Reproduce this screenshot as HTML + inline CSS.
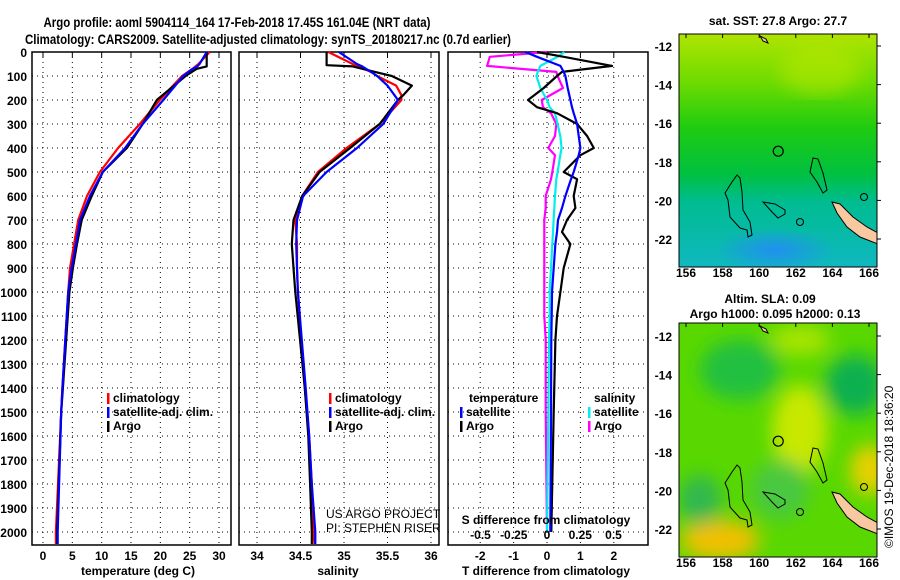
<!DOCTYPE html>
<html><head><meta charset="utf-8"><style>
html,body{margin:0;padding:0;background:#fff;width:900px;height:580px;overflow:hidden}
svg{display:block}
svg text{font-family:"Liberation Sans",sans-serif}
.b{font-weight:bold;font-size:12px}
</style></head><body>
<svg id="c" width="900" height="580" viewBox="0 0 900 580" xmlns="http://www.w3.org/2000/svg">
<defs>
<linearGradient id="sst" x1="0" y1="0" x2="0" y2="1">
<stop offset="0" stop-color="#b0e400"/><stop offset="0.2" stop-color="#70dc00"/><stop offset="0.4" stop-color="#20cc10"/><stop offset="0.6" stop-color="#00c040"/><stop offset="0.72" stop-color="#00bc90"/><stop offset="1" stop-color="#10b8c0"/></linearGradient>
<radialGradient id="blu" cx="0.5" cy="0.5" r="0.5"><stop offset="0" stop-color="#2090f0"/><stop offset="1" stop-color="#2090f0" stop-opacity="0"/></radialGradient>
<filter id="bl"><feGaussianBlur stdDeviation="9"/></filter>
<clipPath id="m1"><rect x="679" y="34" width="198" height="233"/></clipPath>
<clipPath id="m2"><rect x="679" y="323" width="198" height="234"/></clipPath>
</defs>
<text x="237" y="27" font-size="14" font-weight="bold" text-anchor="middle" textLength="387" lengthAdjust="spacingAndGlyphs">Argo profile: aoml 5904114_164 17-Feb-2018 17.45S 161.04E (NRT data)</text>
<text x="268" y="44" font-size="14" font-weight="bold" text-anchor="middle" textLength="486" lengthAdjust="spacingAndGlyphs">Climatology: CARS2009. Satellite-adjusted climatology: synTS_20180217.nc (0.7d earlier)</text>
<g id="panels"></g>
<g id="maps">
<g clip-path="url(#m1)">
<rect x="679" y="34" width="198" height="233" fill="url(#sst)"/>
<ellipse cx="775" cy="250" rx="60" ry="22" fill="url(#blu)"/>
<ellipse cx="820" cy="70" rx="40" ry="25" fill="#c0e800" opacity="0.5" filter="url(#bl)"/>
<g id="coast1"></g>
</g>
<g clip-path="url(#m2)">
<rect x="679" y="323" width="198" height="234" fill="#58d800"/>
<g filter="url(#bl)">
<ellipse cx="740" cy="370" rx="40" ry="30" fill="#20c040"/>
<ellipse cx="855" cy="385" rx="30" ry="30" fill="#10b050"/>
<ellipse cx="800" cy="430" rx="28" ry="45" fill="#c8e800"/>
<ellipse cx="720" cy="540" rx="40" ry="20" fill="#f0c000"/>
<ellipse cx="870" cy="470" rx="20" ry="25" fill="#e8d000"/>
<ellipse cx="700" cy="500" rx="22" ry="25" fill="#30b850"/>
<ellipse cx="780" cy="490" rx="30" ry="30" fill="#48c840"/>
<ellipse cx="800" cy="340" rx="30" ry="15" fill="#a8e400"/>
</g>
<g id="coast2"></g>
</g>
<rect x="679" y="34" width="198" height="233" fill="none" stroke="#000"/>
<rect x="679" y="323" width="198" height="234" fill="none" stroke="#000"/>
<text x="778" y="25" class="b" text-anchor="middle">sat. SST: 27.8 Argo: 27.7</text>
<text x="770" y="303" class="b" text-anchor="middle">Altim. SLA: 0.09</text>
<text x="775" y="318" class="b" text-anchor="middle">Argo h1000: 0.095 h2000: 0.13</text>
<text transform="translate(893,548) rotate(-90)" font-size="12">©IMOS 19-Dec-2018 18:36:20</text>
</g>
</svg>
<script>
// ---- profile data ----
const tempDepth=[0,50,60,70,100,200,300,400,500,600,700,800,900,1000,1400,1500,2000,2050];
const tempArgo=[27.9,27.9,27.9,26.2,24.3,19.4,17,14.3,10.2,8.3,6.6,5.8,5.1,4.5,3.4,3.1,2.4,2.4];
const tempClim=[28.4,26.5,26,25.5,23.7,19.9,16.5,12.8,9.7,7.5,6,5.3,4.6,4.3,3.3,3.1,2.2,2.2];
const tempSat=[27.9,26.7,26.3,25.5,23.9,20.5,17,14,10.2,8,6.3,5.6,4.9,4.3,3.3,3.1,2.5,2.5];
const salDepth=[0,50,55,60,85,100,140,180,200,300,400,500,600,700,800,900,1000,1400,1600,1800,2000,2050];
const salArgo=[34.80,34.80,34.80,35.1,35.38,35.55,35.78,35.68,35.62,35.41,35.07,34.72,34.52,34.42,34.40,34.42,34.44,34.55,34.59,34.61,34.63,34.63];
const salClim=[34.82,35.1,35.13,35.17,35.32,35.38,35.60,35.66,35.66,35.41,35.03,34.70,34.52,34.44,34.46,34.46,34.47,34.55,34.60,34.63,34.65,34.66];
const salSat=[34.94,35.15,35.18,35.21,35.32,35.38,35.50,35.58,35.62,35.45,35.15,34.80,34.53,34.46,34.45,34.46,34.47,34.56,34.60,34.63,34.67,34.67];
const diffDepth=[0,20,58,83,100,150,200,230,255,300,350,400,430,500,530,600,650,700,750,800,900,1000,1100,1200,1500,2000];
const dTArgo=[-0.3,0.5,1.95,0.45,0.3,-0.1,-0.57,-0.3,0.3,0.9,1.2,1.4,1.0,0.5,0.9,0.8,0.85,0.6,0.45,0.7,0.5,0.4,0.3,0.25,0.2,0.13];
const dTSat=[-0.65,-0.3,0.4,0.5,0.55,0.62,0.7,0.75,0.8,0.9,0.95,1.0,0.95,0.8,0.72,0.55,0.45,0.33,0.3,0.25,0.2,0.15,0.14,0.13,0.12,0.1];
const dSArgo=[0,-0.43,-0.45,0.07,0.08,0.12,-0.04,-0.03,0.03,0.07,0.06,0.01,0.06,0.04,0.03,-0.01,-0.01,-0.02,-0.02,-0.02,-0.02,-0.02,-0.02,-0.01,-0.01,0];
const dSSat=[0.13,0.08,-0.05,-0.07,-0.08,-0.05,0,0.02,0.06,0.08,0.1,0.11,0.1,0.08,0.07,0.06,0.055,0.05,0.045,0.04,0.03,0.02,0.02,0.015,0.01,0];
const depthTicks=[0,100,200,300,400,500,600,700,800,900,1000,1100,1200,1300,1400,1500,1600,1700,1800,1900,2000];
const tTicks=[0,5,10,15,20,25,30];
const sTicks=[34,34.5,35,35.5,36];
const dTTicks=[-2,-1,0,1,2];
const dSTicks=[-0.5,-0.25,0,0.25,0.5];
const dSTickLabels=['-0.5','-0.25','0','0.25','0.5'];

const NS='http://www.w3.org/2000/svg';
const G=document.getElementById('panels');
function el(tag,attrs,parent){const e=document.createElementNS(NS,tag);for(const k in attrs)e.setAttribute(k,attrs[k]);(parent||G).appendChild(e);return e;}
const Y=d=>52+d*0.24;
const xT=v=>43+v*5.867;
const xS=v=>257+(v-34)*87;
const xdT=v=>547+v*33.4;
const xdS=v=>547+v*133;
const TOP=52,BOT=545;
function frame(x0,x1,name){
  const r=el('rect',{x:x0,y:TOP,width:x1-x0,height:BOT-TOP,fill:'none',stroke:'#000','stroke-width':1.5});
  
  
  depthTicks.forEach(d=>{
    const l=el('line',{x1:x0,x2:x1,y1:Y(d),y2:Y(d),stroke:'#000','stroke-dasharray':'1,4'});
    
    
  });
}
function vgrid(ticks,fx){ticks.forEach(v=>{const l=el('line',{x1:fx(v),x2:fx(v),y1:TOP,y2:BOT,stroke:'#000','stroke-dasharray':'1,4'});
  
  
  el('line',{x1:fx(v),x2:fx(v),y1:TOP,y2:TOP+5,stroke:'#000'});});}
function line(depths,vals,fx,color,name,w){
  const p=el('polyline',{points:depths.map((d,i)=>fx(vals[i]).toFixed(1)+','+Y(d).toFixed(1)).join(' '),fill:'none',stroke:color,'stroke-width':w||2.2,'stroke-linejoin':'round'});
  
  
}
function txt(x,y,s,opt){const t=el('text',Object.assign({x:x,y:y,'class':'b'},opt||{}));t.textContent=s;return t;}

frame(32,231,'temperature-panel');vgrid(tTicks,xT);
line(tempDepth,tempClim,xT,'#f00','temp-climatology-line');
line(tempDepth,tempArgo,xT,'#000','temp-argo-line');
line(tempDepth,tempSat,xT,'#00f','temp-satellite-line');
frame(239,439,'salinity-panel');vgrid(sTicks,xS);
line(salDepth,salClim,xS,'#f00','sal-climatology-line');
line(salDepth,salArgo,xS,'#000','sal-argo-line');
line(salDepth,salSat,xS,'#00f','sal-satellite-line');
frame(448,648,'difference-panel');vgrid(dTTicks,xdT);
line(diffDepth,dSArgo,xdS,'#f0f','sdiff-argo-line');
line(diffDepth,dSSat,xdS,'#0ee','sdiff-satellite-line');
line(diffDepth,dTArgo,xdT,'#000','tdiff-argo-line');
line(diffDepth,dTSat,xdT,'#00f','tdiff-satellite-line');

depthTicks.forEach(d=>{const t=txt(27,Y(d)+5,String(d),{'text-anchor':'end'});
  
  });
tTicks.forEach(v=>{const t=txt(xT(v),560,String(v),{'text-anchor':'middle'});
  
  });
sTicks.forEach(v=>{const t=txt(xS(v),560,String(v),{'text-anchor':'middle'});
  
  });
dTTicks.forEach(v=>{const t=txt(xdT(v),560,String(v),{'text-anchor':'middle'});
  
  });
dSTicks.forEach((v,i)=>{const t=txt(xdS(v),539,dSTickLabels[i],{'text-anchor':'middle'});
  
  });
let t;
t=txt(138,575,'temperature (deg C)',{'text-anchor':'middle'});
t=txt(338,575,'salinity',{'text-anchor':'middle'});
t=txt(546,575,'T difference from climatology',{'text-anchor':'middle'});
t=txt(546,524,'S difference from climatology',{'text-anchor':'middle'});
t=txt(326,518,'US ARGO PROJECT',{'class':'','font-size':12});
t=txt(326,532,'PI: STEPHEN RISER',{'class':'','font-size':12});

function legend(x,y,color,label){const r=el('rect',{x:x,y:y-9,width:2.5,height:11,fill:color});
  
  const t=txt(x+6,y,label);}
legend(107,402,'#f00','climatology');legend(107,416,'#00f','satellite-adj. clim.');legend(107,430,'#000','Argo');
legend(329,402,'#f00','climatology');legend(329,416,'#00f','satellite-adj. clim.');legend(329,430,'#000','Argo');
t=txt(469,402,'temperature');
legend(460,416,'#00f','satellite');legend(460,430,'#000','Argo');
t=txt(594,402,'salinity');
legend(588,416,'#0ee','satellite');legend(588,430,'#f0f','Argo');

const lonTicks=[156,158,160,162,164,166];
const latTicks=[-12,-14,-16,-18,-20,-22];
const mapX=lon=>686+(lon-156)*18.3;
const mapY=(lat,off)=>off+46+(-12-lat)*19.3;
const M=document.getElementById('maps');
[0,290].forEach((off,mi)=>{
  lonTicks.forEach(v=>{el('line',{x1:mapX(v),x2:mapX(v),y1:(mi?323:34),y2:(mi?323:34)+4,stroke:'#000'},M);
    const t=txt(mapX(v),(mi?567:277),String(v),{'text-anchor':'middle'});M.appendChild(t);
    });
  latTicks.forEach(v=>{const y=mapY(v,off);el('line',{x1:877,x2:881,y1:y,y2:y,stroke:'#000'},M);
    const t=txt(672,y+5,String(v),{'text-anchor':'end'});M.appendChild(t);
    });
  const g=document.getElementById(mi?'coast2':'coast1');
  const dy=off;
  const sh=pts=>pts.map(p=>p[0]+','+(p[1]+dy)).join(' ');
  el('polygon',{points:sh([[737,175],[732,182],[725,193],[728,200],[730,217],[740,228],[747,230],[748,237],[752,235],[750,222],[743,210],[742,192],[740,178]]),fill:'none',stroke:'#000','stroke-width':1},g);
  el('polygon',{points:sh([[813,158],[810,172],[817,182],[823,193],[827,190],[823,173],[818,159]]),fill:'none',stroke:'#000','stroke-width':1},g);
  el('polygon',{points:sh([[763,202],[775,204],[785,210],[785,214],[778,218],[772,212]]),fill:'none',stroke:'#000','stroke-width':1},g);
  el('polygon',{points:sh([[832,202],[840,204],[853,217],[867,227],[878,233],[878,244],[860,237],[847,227],[837,213]]),fill:'#f8c8a0',stroke:'#000','stroke-width':1},g);
  el('polygon',{points:sh([[760,36],[766,39],[768,43],[763,41]]),fill:'#f8c8a0',stroke:'#000','stroke-width':1},g);
  el('circle',{cx:800,cy:222+dy,r:3.5,fill:'none',stroke:'#000'},g);
  el('circle',{cx:864,cy:197+dy,r:3.5,fill:'none',stroke:'#000'},g);
  const c=el('circle',{cx:mapX(161.04),cy:mapY(-17.45,off),r:5,fill:'none',stroke:'#000','stroke-width':1.2},g);
  
  
});
</script>
</body></html>
